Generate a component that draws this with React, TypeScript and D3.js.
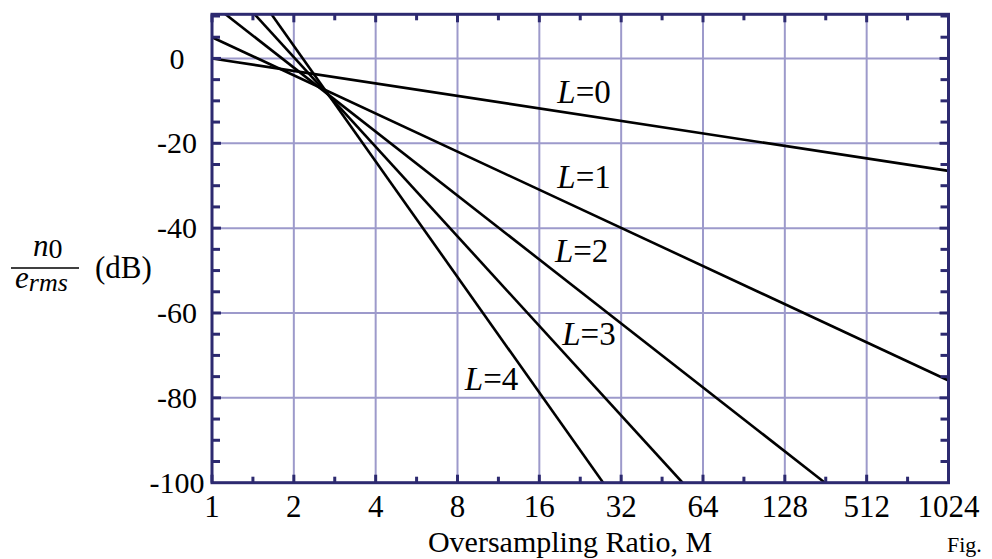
import React from "react";
import * as d3 from "d3";

// x positions are octaves above M = 1 (log2 M); tick labels as printed in the figure
const xTickLabels = ["1", "2", "4", "8", "16", "32", "64", "128", "512", "1024"];
const yTicks = [0, -20, -40, -60, -80, -100];

// each series: [octave, dB] end points of a straight line
const L0 = [[0, 0], [9, -26.5]];
const L1 = [[0, 5.0], [9, -75.9]];
const L2 = [[0, 12.9], [7.49, -100]];
const L3 = [[0, 21.4], [5.75, -100]];
const L4 = [[0, 30.2], [4.78, -100]];
const seriesNames = ["0", "1", "2", "3", "4"];
const labelOct = [4.22, 4.22, 4.19, 4.28, 3.09];
const labelDb = [-10.5, -30.5, -48, -67.5, -78.2];

const W = 992, H = 559;
const left = 212, right = 948.5, top = 14.3, bottom = 482.7;
const frameColor = "#2d2a70";
const gridColor = "#9d9acb";
const serif = "'Liberation Serif', 'Times New Roman', Times, serif";

export default function App() {
  const x = d3.scaleLinear().domain([0, 9]).range([left, right]);
  const y = d3.scaleLinear().domain([-100, 10.4]).range([bottom, top]);
  const line = d3.line<number[]>().x(d => x(d[0])).y(d => y(d[1]));
  const series = [L0, L1, L2, L3, L4];

  const majorX = d3.range(0, 10);
  const minorX = d3.range(0.5, 9, 1);
  const gridX = d3.range(1, 9);
  const gridY = [-80, -60, -40, -20, 0];
  const minorY = d3.range(-95, 10.4, 5).filter(v => v % 20 !== 0);
  const majorY = [-80, -60, -40, -20, 0];

  return (
    <svg width={W} height={H} style={{ position: "absolute", left: 0, top: 0, background: "#fff" }}
      fontFamily={serif}>
      <defs>
        <clipPath id="plotClip">
          <rect x={left} y={top} width={right - left} height={bottom - top} />
        </clipPath>
      </defs>
      {/* grid */}
      {gridX.map(o => (
        <line key={"gx" + o} x1={x(o)} x2={x(o)} y1={top} y2={bottom} stroke={gridColor} strokeWidth={2} />
      ))}
      {gridY.map(v => (
        <line key={"gy" + v} x1={left} x2={right} y1={y(v)} y2={y(v)} stroke={gridColor} strokeWidth={2} />
      ))}
      {/* data lines */}
      <g clipPath="url(#plotClip)">
        {series.map((s, i) => (
          <path key={"s" + i} d={line(s) || ""} fill="none" stroke="#000" strokeWidth={2.6} />
        ))}
      </g>
      {/* ticks */}
      {majorX.map(o => (
        <g key={"mx" + o}>
          <line x1={x(o)} x2={x(o)} y1={bottom} y2={bottom - 8} stroke={frameColor} strokeWidth={3} />
          <line x1={x(o)} x2={x(o)} y1={top} y2={top + 8} stroke={frameColor} strokeWidth={3} />
        </g>
      ))}
      {minorX.map(o => (
        <g key={"nx" + o}>
          <line x1={x(o)} x2={x(o)} y1={bottom} y2={bottom - 6} stroke={frameColor} strokeWidth={3} />
          <line x1={x(o)} x2={x(o)} y1={top} y2={top + 6} stroke={frameColor} strokeWidth={3} />
        </g>
      ))}
      {majorY.map(v => (
        <g key={"my" + v}>
          <line x1={left} x2={left + 9} y1={y(v)} y2={y(v)} stroke={frameColor} strokeWidth={3} />
          <line x1={right} x2={right - 9} y1={y(v)} y2={y(v)} stroke={frameColor} strokeWidth={3} />
        </g>
      ))}
      {minorY.map(v => (
        <g key={"ny" + v}>
          <line x1={left} x2={left + 8} y1={y(v)} y2={y(v)} stroke={frameColor} strokeWidth={3} />
          <line x1={right} x2={right - 8} y1={y(v)} y2={y(v)} stroke={frameColor} strokeWidth={3} />
        </g>
      ))}
      {/* frame */}
      <rect x={left} y={top} width={right - left} height={bottom - top} fill="none"
        stroke={frameColor} strokeWidth={3} />
      {/* tick labels */}
      {xTickLabels.map((t, i) => (
        <text key={"xl" + i} x={x(i)} y={517} textAnchor="middle" fontSize={31} fill="#000">{t}</text>
      ))}
      {yTicks.map(v => (
        <text key={"yl" + v} x={177} y={y(v)} dy="0.34em" textAnchor="middle" fontSize={30} fill="#000">{v}</text>
      ))}
      {/* series labels */}
      {seriesNames.map((n, i) => (
        <text key={"lab" + i} x={x(labelOct[i])} y={y(labelDb[i])} fontSize={33} fill="#000">
          <tspan fontStyle="italic">L</tspan>={n}
        </text>
      ))}
      {/* axis titles */}
      <text x={570} y={552} textAnchor="middle" fontSize={30} fill="#000">Oversampling Ratio, M</text>
      <text x={33} y={256} fontSize={31} fill="#000">
        <tspan fontStyle="italic">n</tspan><tspan fontSize={28} dy={2}>0</tspan>
      </text>
      <line x1={11} x2={79} y1={268} y2={268} stroke="#000" strokeWidth={1.5} />
      <text x={15} y={288} fontSize={31} fill="#000" fontStyle="italic">
        e<tspan fontSize={26} dy={3}>rms</tspan>
      </text>
      <text x={95} y={278} fontSize={31} fill="#000">(dB)</text>
      <text x={947} y={552} fontSize={22} fill="#000">Fig.</text>
    </svg>
  );
}
